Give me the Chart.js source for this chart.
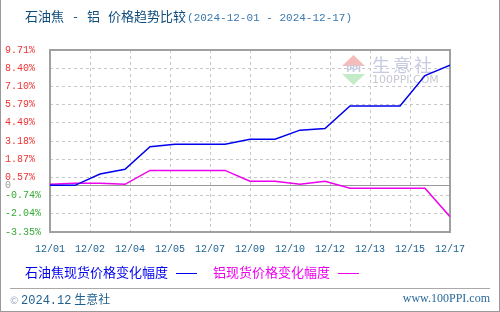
<!DOCTYPE html>
<html>
<head>
<meta charset="utf-8">
<script src="https://cdn.jsdelivr.net/npm/chart.js@4.4.1/dist/chart.umd.min.js"></script>
<style>
html, body { margin: 0; padding: 0; background: #fff; }
#wrap { position: relative; width: 500px; height: 312px; overflow: hidden; font-family: "Noto Sans CJK SC", sans-serif; }
#wrap canvas { position: absolute; left: 0; top: 0; }
.frame { position: absolute; left: 0; top: 0; width: 498px; height: 311px; border: 1px solid #999; border-top: none; pointer-events: none; }
.title { position: absolute; left: 25px; top: 6px; font-size: 13px; color: #0f4c7c; white-space: nowrap; }
.title span { display: inline-block; }
.title .dash { width: 23px; text-align: center; }
.title .al { margin-right: 8px; }
.title .dt { font-family: "Liberation Mono", monospace; font-size: 11px; color: #3a78ae; margin-left: 1px; }
.legend { position: absolute; top: 262px; font-size: 13px; white-space: nowrap; }
.legend span.ln { display: inline-block; width: 21px; height: 0; border-top: 1px solid; vertical-align: middle; margin-left: 8px; }
.sep { position: absolute; left: 10px; top: 288px; width: 480px; border-top: 1px solid #aaa; }
.foot { position: absolute; left: 10px; top: 290px; font-size: 12px; color: #1d5f8f; white-space: nowrap; }
.foot .c { color: #9ab; font-size: 10px; }
.foot .y { font-family: "Liberation Mono", monospace; font-size: 12px; }
.url { position: absolute; right: 10px; top: 291px; font-family: "Liberation Serif", serif; font-size: 12px; color: #2a6a9a; }
</style>
</head>
<body>
<div id="wrap">
  <canvas id="chart" width="500" height="312"></canvas>
  <div class="title"><span>石油焦</span><span class="dash">-</span><span class="al">铝</span><span>价格趋势比较</span><span class="dt">(2024-12-01 - 2024-12-17)</span></div>
  <div class="legend" style="left:25px;color:#0000ee">石油焦现货价格变化幅度<span class="ln" style="border-color:#0000ee"></span></div>
  <div class="legend" style="left:213px;color:#ee00ee">铝现货价格变化幅度<span class="ln" style="border-color:#ee00ee"></span></div>
  <div class="sep"></div>
  <div class="foot"><span class="c">©</span> <span class="y">2024.12</span> 生意社</div>
  <div class="url">www.100PPI.com</div>
  <div class="frame"></div>
</div>
<script>
// daily points 12/01 .. 12/17, change in % vs first day
var days = ['12/01','12/02','12/03','12/04','12/05','12/06','12/07','12/08','12/09',
            '12/10','12/11','12/12','12/13','12/14','12/15','12/16','12/17'];
var petcoke = [0, 0, 0.81, 1.15, 2.77, 2.94, 2.94, 2.94, 3.30, 3.30, 3.96, 4.08, 5.70, 5.70, 5.70, 7.87, 8.62];
var aluminium = [0.07, 0.14, 0.14, 0.07, 1.07, 1.07, 1.07, 1.07, 0.29, 0.29, 0.07, 0.29, -0.21, -0.21, -0.21, -0.21, -2.25];

// axis labels as printed on the chart
var xLabels = ['12/01','12/02','12/04','12/05','12/07','12/09','12/10','12/12','12/13','12/15','12/17'];
var yTicks = [-3.35, -2.04, -0.74, 0, 0.57, 1.87, 3.18, 4.49, 5.79, 7.10, 8.40, 9.71];

function toPoints(arr) {
	return arr.map(function(v, i) { return {x: i, y: v}; });
}

var decor = {
	id: 'decor',
	beforeDatasetsDraw: function(chart) {
		var ctx = chart.ctx, a = chart.chartArea;
		var y0 = chart.scales.y.getPixelForValue(0);

		// watermark
		ctx.save();
		ctx.fillStyle = '#f5bcbc';
		ctx.beginPath(); ctx.moveTo(342, 66); ctx.lineTo(365, 66); ctx.lineTo(353.5, 55); ctx.closePath(); ctx.fill();
		ctx.fillStyle = '#c4ebc8';
		ctx.beginPath(); ctx.moveTo(342, 74); ctx.lineTo(365, 74); ctx.lineTo(353.5, 85); ctx.closePath(); ctx.fill();
		ctx.fillStyle = '#c7cbe2';
		ctx.font = 'bold 8px "DejaVu Sans"';
		ctx.textAlign = 'center'; ctx.textBaseline = 'middle';
		ctx.fillText('PPI', 353.5, 70);
		ctx.textAlign = 'left';
		ctx.font = '18px "Noto Sans CJK SC"';
		ctx.fillText('生', 372, 65); ctx.fillText('意', 393, 65); ctx.fillText('社', 414, 65);
		ctx.fillStyle = '#c8c8d2';
		ctx.font = '11px "DejaVu Sans"';
		ctx.fillText('100PPI.COM', 372, 80);
		ctx.restore();

		// zero line
		ctx.save();
		ctx.strokeStyle = '#999';
		ctx.lineWidth = 1;
		ctx.beginPath();
		ctx.moveTo(a.left, Math.round(y0) + 0.5);
		ctx.lineTo(a.right, Math.round(y0) + 0.5);
		ctx.stroke();
		// plot frame
		ctx.lineWidth = 2;
		ctx.strokeStyle = '#a0a0a0';
		ctx.strokeRect(a.left, a.top, a.right - a.left, a.bottom - a.top);
		ctx.restore();
	}
};

var ctx = document.getElementById('chart').getContext('2d');

var chart = new Chart(ctx, {
	type: 'line',
	data: {
		datasets: [{
			label: '石油焦现货价格变化幅度',
			data: toPoints(petcoke),
			borderColor: '#0000ee',
			borderWidth: 1.5,
			pointRadius: 0,
			tension: 0
		}, {
			label: '铝现货价格变化幅度',
			data: toPoints(aluminium),
			borderColor: '#ee00ee',
			borderWidth: 1.5,
			pointRadius: 0,
			tension: 0
		}]
	},
	options: {
		responsive: false,
		animation: false,
		layout: { padding: { left: 5, right: 50, top: 50, bottom: 55 } },
		plugins: {
			legend: { display: false },
			tooltip: { enabled: false }
		},
		scales: {
			x: {
				type: 'linear',
				min: 0,
				max: days.length - 1,
				afterBuildTicks: function(axis) {
					axis.ticks = xLabels.map(function(l, i) {
						return { value: i * (days.length - 1) / (xLabels.length - 1) };
					});
				},
				afterFit: function(axis) { axis.height = 25; },
				grid: { color: '#c8c8c8', drawTicks: false },
				border: { display: false, dash: [3, 3] },
				ticks: {
					autoSkip: false,
					maxRotation: 0,
					padding: 11,
					color: '#1a5f90',
					font: { family: '"Liberation Mono", monospace', size: 10 },
					callback: function(v, i) { return xLabels[i]; }
				}
			},
			y: {
				min: yTicks[0],
				max: yTicks[yTicks.length - 1],
				afterBuildTicks: function(axis) {
					axis.ticks = yTicks.map(function(v) { return { value: v }; });
				},
				afterFit: function(axis) { axis.width = 45; },
				grid: {
					drawTicks: false,
					color: function(c) { return c.tick && c.tick.value === 0 ? 'rgba(0,0,0,0)' : '#c8c8c8'; }
				},
				border: { display: false, dash: [3, 3] },
				ticks: {
					crossAlign: 'far',
					padding: 0,
					font: { family: '"Liberation Mono", monospace', size: 10 },
					color: function(c) {
						var v = c.tick.value;
						return v > 0 ? '#ee3333' : (v < 0 ? '#33aa33' : '#999999');
					},
					callback: function(v) { return v === 0 ? '0' : v.toFixed(2) + '%'; }
				}
			}
		}
	},
	plugins: [decor]
});
</script>
</body>
</html>
